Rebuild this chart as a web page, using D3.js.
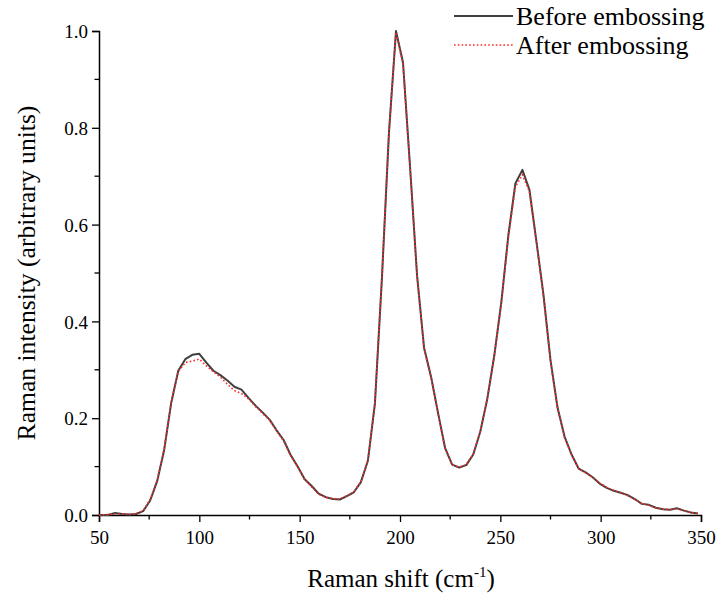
<!DOCTYPE html>
<html><head><meta charset="utf-8">
<script src="https://cdn.jsdelivr.net/npm/d3@7"></script>
<style>body{margin:0;background:#fff}svg{display:block}
svg text{font-family:"Liberation Serif","Times New Roman",Tinos,"DejaVu Serif",serif !important;fill:#000}</style>
</head><body><svg id="c" width="717" height="597"></svg>
<script>
const shift = [50,54.5,58,61.5,65,68.5,72,75.5,79,82.5,86,89.5,93,96.5,100,103.5,107,110.5,114,117.5,121,124.5,128,131.5,135,138.5,142,145.5,149,152.5,156,159.5,163,166.5,170,173.5,177,180.5,184,187.5,191,194.5,198,201.5,205,208.5,212,215.5,219,222.5,226,229.5,233,236.5,240,243.5,247,250.5,254,257.5,261,264.5,268,271.5,275,278.5,282,285.5,289,292.5,296,299.5,303,306.5,310,313.5,317,320.5,324,327.5,331,334.5,338,341.5,345,348.5];
const before = [0.0,0.0,0.004,0.002,0.001,0.002,0.008,0.03,0.07,0.135,0.232,0.298,0.322,0.331,0.333,0.315,0.298,0.289,0.278,0.265,0.259,0.242,0.226,0.212,0.197,0.175,0.155,0.124,0.100,0.074,0.060,0.044,0.037,0.033,0.032,0.039,0.047,0.068,0.112,0.230,0.490,0.790,1.000,0.935,0.720,0.495,0.345,0.285,0.210,0.138,0.104,0.098,0.103,0.125,0.172,0.240,0.330,0.440,0.578,0.685,0.713,0.672,0.565,0.455,0.320,0.222,0.162,0.125,0.096,0.088,0.078,0.065,0.056,0.050,0.046,0.041,0.033,0.023,0.021,0.015,0.012,0.011,0.014,0.009,0.005,0.003];
const after = [0.0,0.001,0.002,0.002,0.001,0.003,0.009,0.032,0.072,0.137,0.233,0.296,0.315,0.318,0.322,0.308,0.296,0.285,0.270,0.257,0.251,0.240,0.224,0.210,0.196,0.174,0.153,0.122,0.099,0.073,0.058,0.043,0.036,0.034,0.033,0.040,0.048,0.068,0.113,0.232,0.492,0.792,0.997,0.932,0.718,0.495,0.344,0.284,0.209,0.137,0.104,0.099,0.104,0.126,0.173,0.240,0.328,0.438,0.574,0.678,0.703,0.668,0.562,0.452,0.318,0.221,0.160,0.124,0.096,0.087,0.078,0.066,0.057,0.051,0.046,0.040,0.032,0.024,0.020,0.015,0.012,0.011,0.013,0.009,0.005,0.003];
const xTicks = [50,100,150,200,250,300,350];
const yTicks = [0.0,0.2,0.4,0.6,0.8,1.0];
const seriesNames = ["Before embossing","After embossing"];

const FONT = '"Liberation Serif","Times New Roman",Tinos,"DejaVu Serif",serif';
const svg = d3.select("#c");
const x = d3.scaleLinear().domain([50,350]).range([99,701]);
const y = d3.scaleLinear().domain([0,1]).range([515,31]);

const xMinor = d3.range(75,350,50);
const yMinor = [0.1,0.3,0.5,0.7,0.9];
const g = svg.append("g");
g.selectAll(".xm").data(xMinor).enter().append("line")
  .attr("x1",d=>x(d)).attr("x2",d=>x(d)).attr("y1",515).attr("y2",519.5)
  .attr("stroke","#000").attr("stroke-width",1.3);
g.selectAll(".ym").data(yMinor).enter().append("line")
  .attr("y1",d=>y(d)).attr("y2",d=>y(d)).attr("x1",99).attr("x2",94.5)
  .attr("stroke","#000").attr("stroke-width",1.3);

const xAxis = svg.append("g").attr("transform","translate(0,515)")
  .call(d3.axisBottom(x).tickValues(xTicks).tickSize(7).tickPadding(5).tickFormat(d3.format("d")));
const yAxis = svg.append("g").attr("transform","translate(99,0)")
  .call(d3.axisLeft(y).tickValues(yTicks).tickSize(7).tickPadding(4).tickFormat(d3.format(".1f")));
[xAxis,yAxis].forEach(a=>{
  a.attr("font-family",FONT).attr("font-size",19);
  a.select(".domain").attr("stroke","#000").attr("stroke-width",1.5);
  a.selectAll(".tick line").attr("stroke","#000").attr("stroke-width",1.3);
  a.selectAll("text").attr("fill","#000");
});
xAxis.selectAll("text").attr("dy","0.9em");
yAxis.selectAll("text").attr("dy","0.35em");

const line = d3.line().x((d,i)=>x(shift[i])).y(d=>y(d));
svg.append("path").datum(before).attr("d",line).attr("fill","none")
  .attr("stroke","#404040").attr("stroke-width",2).attr("stroke-linejoin","round");
svg.append("path").datum(after).attr("d",line).attr("fill","none")
  .attr("stroke","#ff2a2a").attr("stroke-width",1.6).attr("stroke-dasharray","1.6,2.2");

const xt = svg.append("text").attr("x",401).attr("y",587).attr("text-anchor","middle")
  .attr("font-family",FONT).attr("font-size",25);
xt.append("tspan").text("Raman shift (cm");
xt.append("tspan").attr("dy",-10).attr("font-size",15).text("-1");
xt.append("tspan").attr("dy",10).text(")");
svg.append("text").attr("transform","translate(26,273) rotate(-90)").attr("text-anchor","middle")
  .attr("dy","0.35em").attr("font-family",FONT).attr("font-size",25.6).text("Raman intensity (arbitrary units)");

const leg = svg.append("g").attr("font-family",FONT);
leg.append("line").attr("x1",454).attr("x2",513).attr("y1",16).attr("y2",16).attr("stroke","#404040").attr("stroke-width",2);
leg.append("line").attr("x1",454).attr("x2",513).attr("y1",45).attr("y2",45).attr("stroke","#ff2a2a").attr("stroke-width",1.6).attr("stroke-dasharray","1.6,2.2");
leg.selectAll("text.l").data(seriesNames).enter().append("text")
  .attr("x",516).attr("y",(d,i)=>16+i*29).attr("dy","0.35em").attr("font-size",26).text(d=>d);
</script></body></html>
